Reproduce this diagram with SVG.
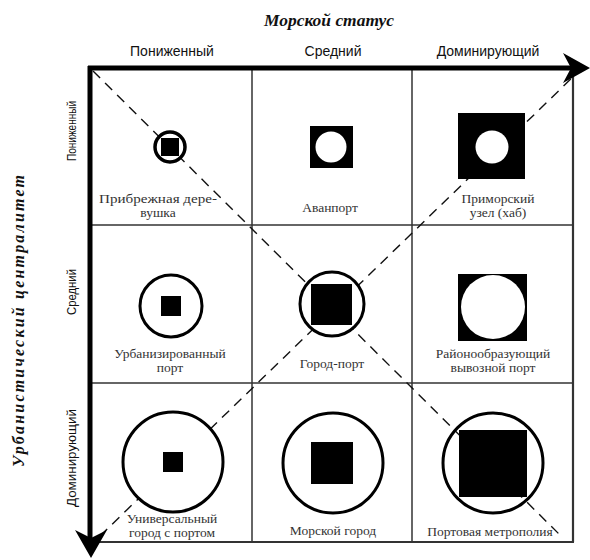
<svg xmlns="http://www.w3.org/2000/svg" width="590" height="560" viewBox="0 0 590 560">
<style>
.grid{stroke:#333;stroke-width:1.5;fill:none}
.dash{stroke:#111;stroke-width:1.4;stroke-dasharray:10 7;fill:none}
.ring{fill:#fff;stroke:#000;stroke-width:3}
.blk{fill:#000}
.wht{fill:#fff}
.lbl{font-family:"Liberation Serif","Times New Roman",serif;font-size:13.5px;fill:#333;text-anchor:middle}
.hdr{font-family:"Liberation Sans",Arial,sans-serif;font-size:14px;fill:#111;text-anchor:middle}
.row{font-family:"Liberation Sans",Arial,sans-serif;font-size:12.5px;fill:#111;text-anchor:middle}
.ttl{font-family:"Liberation Serif","Times New Roman",serif;font-size:16px;font-weight:bold;font-style:italic;fill:#111;text-anchor:middle}
.axis{stroke:#000;stroke-width:5;fill:none}
</style>
<rect width="590" height="560" fill="#fff"/>
<text class="ttl" x="329" y="26" textLength="130" lengthAdjust="spacingAndGlyphs">Морской статус</text>
<text class="ttl" transform="translate(24,321) rotate(-90)" textLength="292" lengthAdjust="spacing">Урбанистический централитет</text>
<g id="headers">
<text class="hdr" x="172" y="56">Пониженный</text>
<text class="hdr" x="333" y="56">Средний</text>
<text class="hdr" x="488" y="56">Доминирующий</text>
<text class="row" transform="translate(76,131) rotate(-90)" textLength="60" lengthAdjust="spacingAndGlyphs">Пониженный</text>
<text class="row" transform="translate(76,292) rotate(-90)" textLength="46" lengthAdjust="spacingAndGlyphs">Средний</text>
<text class="row" transform="translate(76,458) rotate(-90)" textLength="98" lengthAdjust="spacingAndGlyphs">Доминирующий</text>
</g>
<g id="grid">
<line class="grid" x1="252" y1="68" x2="252" y2="542"/>
<line class="grid" x1="412" y1="68" x2="412" y2="542"/>
<line class="grid" x1="90" y1="225" x2="573" y2="225"/>
<line class="grid" x1="90" y1="383" x2="573" y2="383"/>
<line class="grid" style="stroke-width:2.2" x1="573" y1="68" x2="573" y2="542"/>
<line class="grid" style="stroke-width:2.2" x1="90" y1="542" x2="574" y2="542"/>
</g>
<g id="connectors">
<line class="dash" x1="93" y1="71" x2="563" y2="538"/>
<line class="dash" x1="100" y1="536" x2="576" y2="74"/>
</g>
<g id="c11">
<circle class="ring" cx="170" cy="147" r="15" style="stroke-width:3.5"/>
<rect class="blk" x="161" y="138" width="18" height="18"/>
<text class="lbl" x="158" y="203" textLength="118" lengthAdjust="spacingAndGlyphs">Прибрежная дере-</text>
<text class="lbl" x="158" y="217">вушка</text>
</g>
<g id="c12">
<rect class="blk" x="310" y="126" width="43" height="42"/>
<circle class="wht" cx="331" cy="147" r="15.5"/>
<text class="lbl" x="330" y="212">Аванпорт</text>
</g>
<g id="c13">
<rect class="blk" x="458" y="113" width="67" height="66"/>
<circle class="wht" cx="492" cy="147" r="16.5"/>
<text class="lbl" x="498" y="203">Приморский</text>
<text class="lbl" x="498" y="217">узел (хаб)</text>
</g>
<g id="c21">
<circle class="ring" cx="171" cy="306" r="31"/>
<rect class="blk" x="161" y="296" width="20" height="20"/>
<text class="lbl" x="170" y="358">Урбанизированный</text>
<text class="lbl" x="170" y="372">порт</text>
</g>
<g id="c22">
<circle class="ring" cx="332" cy="304" r="32"/>
<rect class="blk" x="311" y="284" width="41" height="41"/>
<text class="lbl" x="332" y="368">Город-порт</text>
</g>
<g id="c23">
<rect class="blk" x="458" y="274" width="69" height="67"/>
<circle class="wht" cx="493" cy="307" r="32"/>
<text class="lbl" x="493" y="358">Районообразующий</text>
<text class="lbl" x="493" y="372">вывозной порт</text>
</g>
<g id="c31">
<circle class="ring" cx="173" cy="462" r="50"/>
<rect class="blk" x="163" y="452" width="20" height="20"/>
<text class="lbl" x="172" y="523">Универсальный</text>
<text class="lbl" x="172" y="537">город с портом</text>
</g>
<g id="c32">
<circle class="ring" cx="333" cy="463" r="50"/>
<rect class="blk" x="311" y="442" width="42" height="42"/>
<text class="lbl" x="333" y="535">Морской город</text>
</g>
<g id="c33">
<rect class="blk" x="459" y="430" width="68" height="67"/>
<circle class="ring" cx="493" cy="463" r="50" style="fill:none"/>
<text class="lbl" x="490" y="536">Портовая метрополия</text>
</g>
<g id="axes">
<line class="axis" x1="88" y1="68" x2="572" y2="68"/>
<line class="axis" x1="90" y1="66" x2="90" y2="540"/>
<path d="M590,68 L563,53 L571,68 L563,83 Z" fill="#000"/>
<path d="M91,558 L75,530 L91,538 L107,530 Z" fill="#000"/>
</g>
</svg>
